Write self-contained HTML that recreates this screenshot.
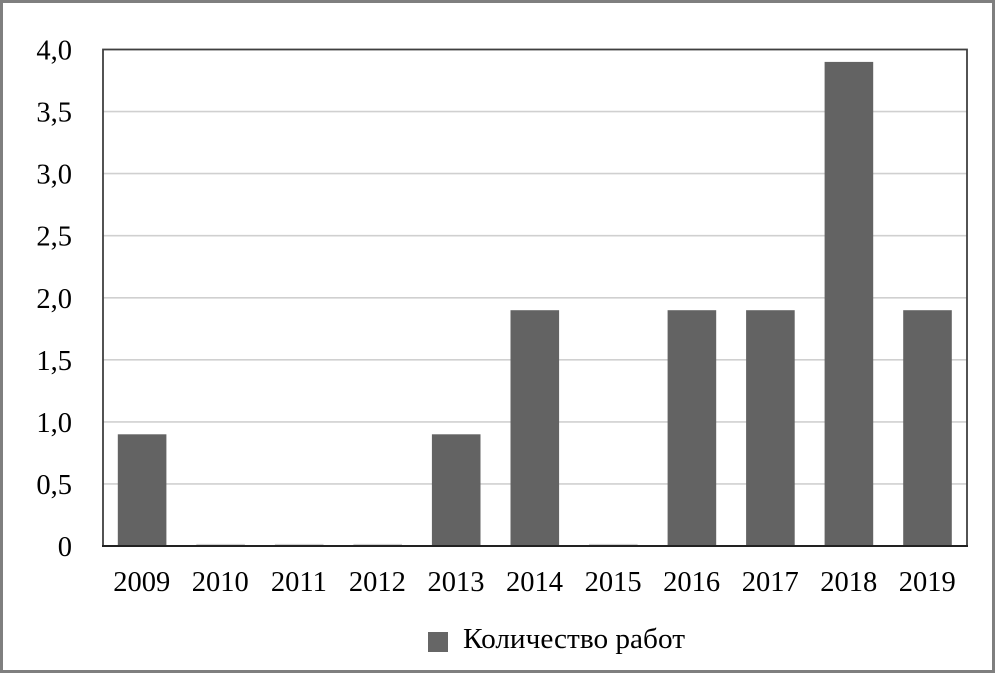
<!DOCTYPE html>
<html><head><meta charset="utf-8"><style>
html,body{margin:0;padding:0;background:#fff;}
svg{display:block;font-family:'Liberation Serif','Times New Roman',Times,serif;}
svg text{font-family:'Liberation Serif','Times New Roman',Times,serif;font-size:28.5px;fill:#000;}
</style></head><body>
<svg width="995" height="673" viewBox="0 0 995 673" xmlns="http://www.w3.org/2000/svg">
<rect x="0" y="0" width="995" height="673" fill="#fff"/>
<rect x="1.5" y="1.5" width="992" height="670" fill="none" stroke="#7f7f7f" stroke-width="3"/>
<g stroke="#d0d0d0" stroke-width="1.6">
<line x1="103" x2="967" y1="111.6" y2="111.6"/>
<line x1="103" x2="967" y1="173.6" y2="173.6"/>
<line x1="103" x2="967" y1="235.7" y2="235.7"/>
<line x1="103" x2="967" y1="297.8" y2="297.8"/>
<line x1="103" x2="967" y1="359.8" y2="359.8"/>
<line x1="103" x2="967" y1="421.9" y2="421.9"/>
<line x1="103" x2="967" y1="483.9" y2="483.9"/>
</g>
<g fill="#636363">
<rect x="117.8" y="434.3" width="48.6" height="111.7"/>
<rect x="431.9" y="434.3" width="48.6" height="111.7"/>
<rect x="510.5" y="310.2" width="48.6" height="235.8"/>
<rect x="667.6" y="310.2" width="48.6" height="235.8"/>
<rect x="746.1" y="310.2" width="48.6" height="235.8"/>
<rect x="824.6" y="61.9" width="48.6" height="484.1"/>
<rect x="903.2" y="310.2" width="48.6" height="235.8"/>
</g>
<g stroke="#cfcfcf" stroke-width="1.2">
<line x1="196.3" x2="244.9" y1="544.5" y2="544.5"/>
<line x1="274.9" x2="323.5" y1="544.5" y2="544.5"/>
<line x1="353.4" x2="402" y1="544.5" y2="544.5"/>
<line x1="589" x2="637.6" y1="544.5" y2="544.5"/>
</g>
<rect x="103" y="49.5" width="864" height="496.5" fill="none" stroke="#404040" stroke-width="1.8"/>
<line x1="102" x2="968" y1="546" y2="546" stroke="#222" stroke-width="2"/>
<g text-anchor="end" font-family="Liberation Serif, Times New Roman, serif" font-size="28.5">
<text x="72" y="59.5" style="font-family:'Liberation Serif',serif">4,0</text>
<text x="72" y="121.6" style="font-family:'Liberation Serif',serif">3,5</text>
<text x="72" y="183.6" style="font-family:'Liberation Serif',serif">3,0</text>
<text x="72" y="245.7" style="font-family:'Liberation Serif',serif">2,5</text>
<text x="72" y="307.8" style="font-family:'Liberation Serif',serif">2,0</text>
<text x="72" y="369.8" style="font-family:'Liberation Serif',serif">1,5</text>
<text x="72" y="431.9" style="font-family:'Liberation Serif',serif">1,0</text>
<text x="72" y="493.9" style="font-family:'Liberation Serif',serif">0,5</text>
<text x="72" y="556" style="font-family:'Liberation Serif',serif">0</text>
</g>
<g text-anchor="middle" font-family="Liberation Serif, Times New Roman, serif" font-size="28.5">
<text x="141.8" y="591" style="font-family:'Liberation Serif',serif">2009</text>
<text x="220.3" y="591" style="font-family:'Liberation Serif',serif">2010</text>
<text x="298.9" y="591" style="font-family:'Liberation Serif',serif">2011</text>
<text x="377.4" y="591" style="font-family:'Liberation Serif',serif">2012</text>
<text x="456" y="591" style="font-family:'Liberation Serif',serif">2013</text>
<text x="534.5" y="591" style="font-family:'Liberation Serif',serif">2014</text>
<text x="613.1" y="591" style="font-family:'Liberation Serif',serif">2015</text>
<text x="691.6" y="591" style="font-family:'Liberation Serif',serif">2016</text>
<text x="770.2" y="591" style="font-family:'Liberation Serif',serif">2017</text>
<text x="848.7" y="591" style="font-family:'Liberation Serif',serif">2018</text>
<text x="927.3" y="591" style="font-family:'Liberation Serif',serif">2019</text>
</g>
<rect x="428" y="632" width="20" height="20" fill="#666"/>
<text x="463" y="648" font-family="Liberation Serif, serif" font-size="28.5" style="font-family:'Liberation Serif',serif" textLength="222" lengthAdjust="spacingAndGlyphs">Количество работ</text>
</svg>
</body></html>
